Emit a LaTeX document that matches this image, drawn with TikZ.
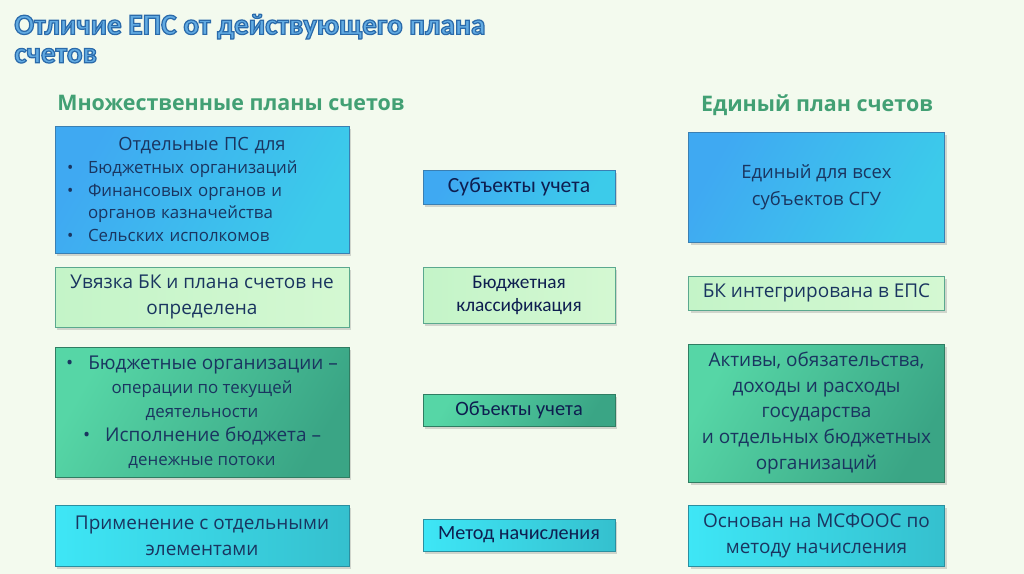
\documentclass[tikz,border=0pt]{standalone}
\usepackage{fontspec}
\setmainfont{Open Sans}
\newfontfamily\calfont{Carlito}
\usepackage{xcolor}
\usetikzlibrary{positioning, shadows}

\definecolor{pagebg}{HTML}{F3FAEE}
\definecolor{titlefill}{HTML}{62ABE2}
\definecolor{headgreen}{HTML}{42A074}
\definecolor{boxtext}{HTML}{1A3560}
\definecolor{midtext}{HTML}{0E1E50}
\definecolor{blueA}{HTML}{3FA9F2}
\definecolor{blueB}{HTML}{3CCBEA}
\definecolor{bluedraw}{HTML}{3A7FB2}
\definecolor{paleA}{HTML}{C4F4C8}
\definecolor{paleB}{HTML}{D4F8D2}
\definecolor{paledraw}{HTML}{5AA88E}
\definecolor{tealA}{HTML}{56D6A6}
\definecolor{tealB}{HTML}{3AA585}
\definecolor{tealdraw}{HTML}{2F7D62}
\definecolor{cyanA}{HTML}{3EE6F6}
\definecolor{cyanB}{HTML}{35C0CE}
\definecolor{cyandraw}{HTML}{2A8FA0}

\newcommand{\bul}[1]{\makebox[0.42cm][l]{•}#1}
% outlined title text (fill + stroke)
\newcommand{\outlined}[1]{\textcolor{titlefill}{\special{pdf:code 2 Tr 0.7 w 0.165 0.416 0.667 RG}#1\special{pdf:code 0 Tr}}}

\begin{document}
\begin{tikzpicture}[x=0.02cm, y=-0.02cm]
    % Define styles
    \tikzstyle{box} = [rectangle, thin, align=center, inner sep=0pt, text=boxtext, drop shadow={shadow xshift=1.2pt, shadow yshift=-1.5pt, opacity=0.3}]
    \tikzstyle{subject} = [box, draw=bluedraw, left color=blueA, right color=blueB, shading angle=60]
    \tikzstyle{budget} = [box, draw=paledraw, left color=paleA, right color=paleB]
    \tikzstyle{object} = [box, draw=tealdraw, left color=tealA, right color=tealB, shading angle=60]
    \tikzstyle{method} = [box, draw=cyandraw, left color=cyanA, right color=cyanB]
    \tikzstyle{heading} = [font=\fontsize{12.2}{14}\selectfont\bfseries, text=headgreen]
    \tikzstyle{midbox} = [minimum width=3.84cm, text=midtext]
    \tikzstyle{leftbox} = [minimum width=5.88cm, font=\fontsize{10.8}{15}\selectfont]
    \tikzstyle{rightbox} = [minimum width=5.12cm, font=\fontsize{10.8}{14.7}\selectfont]

    % Page
    \fill[pagebg] (0,0) rectangle (1024,574);
    \useasboundingbox (0,0) rectangle (1024,574);

    % Title
    \node[anchor=north west, align=left, inner sep=0pt, font=\calfont\fontsize{16.7}{16.2}\selectfont\bfseries] (title) at (14,14)
        {\outlined{Отличие ЕПС от действующего плана}\\
         \outlined{счетов}};

    % Column headings
    \node[heading] (multi) at (231,103) {Множественные планы счетов};
    \node[heading] (single) at (817,105) {Единый план счетов};

    % Left column
    \node[subject, leftbox, minimum height=2.54cm, text width=5.4cm, align=left, font=\fontsize{9.6}{13}\selectfont] (separate) at (202,189.5)
        {\makebox[5.4cm]{\fontsize{10.4}{13}\selectfont Отдельные ПС для}\\
         \bul{Бюджетных организаций}\\
         \bul{Финансовых органов и}\\
         \hspace*{0.42cm}органов казначейства\\
         \bul{Сельских исполкомов}};
    \node[budget, leftbox, minimum height=1.2cm] (link) at (202,297) {Увязка БК и плана счетов не\\определена};
    \node[object, leftbox, minimum height=2.6cm, font=\fontsize{10.8}{13.6}\selectfont] (current) at (202,412)
        {•\hspace{0.3cm}Бюджетные организации –\\
         {\fontsize{9.6}{13.6}\selectfont операции по текущей}\\
         {\fontsize{9.6}{13.6}\selectfont деятельности}\\
         •\hspace{0.3cm}Исполнение бюджета –\\
         {\fontsize{9.6}{13.6}\selectfont денежные потоки}};
    \node[method, leftbox, minimum height=1.22cm, font=\fontsize{10.8}{14.7}\selectfont] (partial) at (202,535.5) {Применение с отдельными\\элементами};

    % Middle column
    \node[subject, midbox, minimum height=0.68cm, font=\calfont\fontsize{12.3}{14}\selectfont] (subjects) at (519,187) {Субъекты учета};
    \node[budget, midbox, minimum height=1.12cm, font=\calfont\fontsize{11}{13}\selectfont] (classif) at (519,295) {Бюджетная\\классификация};
    \node[object, midbox, minimum height=0.64cm, font=\calfont\fontsize{11.6}{14}\selectfont] (objects) at (519,410) {Объекты учета};
    \node[method, midbox, minimum height=0.64cm, font=\calfont\fontsize{11.5}{14}\selectfont] (accrual) at (519,535) {Метод начисления};

    % Right column
    \node[subject, rightbox, minimum height=2.2cm, font=\fontsize{10.5}{15.3}\selectfont] (unified) at (816.5,187) {Единый для всех\\субъектов СГУ};
    \node[budget, rightbox, minimum height=0.68cm] (integrated) at (816.5,293) {БК интегрирована в ЕПС};
    \node[object, rightbox, minimum height=2.76cm] (assets) at (816.5,413)
        {Активы, обязательства,\\доходы и расходы\\государства\\и отдельных бюджетных\\организаций};
    \node[method, rightbox, minimum height=1.22cm] (ipsas) at (816.5,535.5) {Основан на МСФООС по\\методу начисления};
\end{tikzpicture}
\end{document}
